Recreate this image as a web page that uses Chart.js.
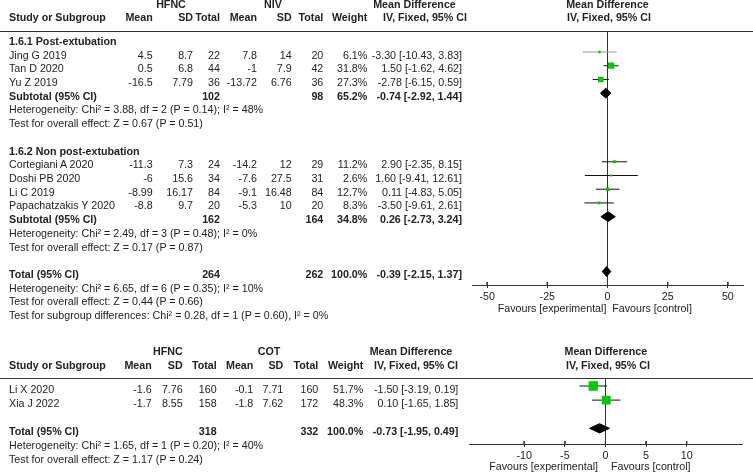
<!DOCTYPE html>
<html>
<head>
<meta charset="utf-8">
<script src="https://cdn.jsdelivr.net/npm/chart.js@4.4.0/dist/chart.umd.min.js"></script>
<style>
  body { margin: 0; background: #fff; width: 753px; height: 474px; position: relative; overflow: hidden;
         font-family: Arial, "Liberation Sans", sans-serif; font-size: 10.7px; color: #222; }
  .t { position: absolute; white-space: nowrap; line-height: 13px; }
  .b { font-weight: bold; }
  .hr { position: absolute; left: 0; width: 753px; height: 0; border-top: 1px solid #333; }
  canvas { position: absolute; left: 0; }
</style>
</head>
<body>
<canvas id="topChart" width="753" height="330" style="top:0"></canvas>
<canvas id="botChart" width="753" height="144" style="top:330px"></canvas>
<div class="hr" style="top:31px"></div>
<div class="hr" style="top:378px"></div>
<script>
// 1.6.1 Post-extubation (HFNC vs NIV)
const postStudies = ['Jing G 2019', 'Tan D 2020', 'Yu Z 2019']
const postHfncMean = [4.5, 0.5, -16.5]
const postHfncSd = [8.7, 6.8, 7.79]
const postHfncN = [22, 44, 36]
const postNivMean = [7.8, -1, -13.72]
const postNivSd = [14, 7.9, 6.76]
const postNivN = [20, 42, 36]
const postWeight = [6.1, 31.8, 27.3]
const postMd = [-3.30, 1.50, -2.78]
const postLo = [-10.43, -1.62, -6.15]
const postHi = [3.83, 4.62, 0.59]

// 1.6.2 Non post-extubation
const nonStudies = ['Cortegiani A 2020', 'Doshi PB 2020', 'Li C 2019', 'Papachatzakis Y 2020']
const nonHfncMean = [-11.3, -6, -8.99, -8.8]
const nonHfncSd = [7.3, 15.6, 16.17, 9.7]
const nonHfncN = [24, 34, 84, 20]
const nonNivMean = [-14.2, -7.6, -9.1, -5.3]
const nonNivSd = [12, 27.5, 16.48, 10]
const nonNivN = [29, 31, 84, 20]
const nonWeight = [11.2, 2.6, 12.7, 8.3]
const nonMd = [2.90, 1.60, 0.11, -3.50]
const nonLo = [-2.35, -9.41, -4.83, -9.61]
const nonHi = [8.15, 12.61, 5.05, 2.61]

// pooled rows: subtotal 1.6.1, subtotal 1.6.2, total
const pooledLabels = ['Subtotal (95% CI)', 'Subtotal (95% CI)', 'Total (95% CI)']
const pooledHfncN = [102, 162, 264]
const pooledNivN = [98, 164, 262]
const pooledWeight = [65.2, 34.8, 100.0]
const pooledMd = [-0.74, 0.26, -0.39]
const pooledLo = [-2.92, -2.73, -2.15]
const pooledHi = [1.44, 3.24, 1.37]
const pooledHet = ['Heterogeneity: Chi² = 3.88, df = 2 (P = 0.14); I² = 48%',
                   'Heterogeneity: Chi² = 2.49, df = 3 (P = 0.48); I² = 0%',
                   'Heterogeneity: Chi² = 6.65, df = 6 (P = 0.35); I² = 10%']
const pooledTest = ['Test for overall effect: Z = 0.67 (P = 0.51)',
                    'Test for overall effect: Z = 0.17 (P = 0.87)',
                    'Test for overall effect: Z = 0.44 (P = 0.66)']
const subgroupTest = 'Test for subgroup differences: Chi² = 0.28, df = 1 (P = 0.60), I² = 0%'
const topTicks = [-50, -25, 0, 25, 50]

// HFNC vs COT
const cotStudies = ['Li X 2020', 'Xia J 2022']
const cotHfncMean = [-1.6, -1.7]
const cotHfncSd = [7.76, 8.55]
const cotHfncN = [160, 158]
const cotMean = [-0.1, -1.8]
const cotSd = [7.71, 7.62]
const cotN = [160, 172]
const cotWeight = [51.7, 48.3]
const cotMd = [-1.50, 0.10]
const cotLo = [-3.19, -1.65]
const cotHi = [0.19, 1.85]
const cotTotalN = [318, 332]
const cotTotalWeight = 100.0
const cotTotalMd = -0.73
const cotTotalLo = -1.95
const cotTotalHi = 0.49
const cotHet = 'Heterogeneity: Chi² = 1.65, df = 1 (P = 0.20); I² = 40%'
const cotTest = 'Test for overall effect: Z = 1.17 (P = 0.24)'
const bottomTicks = [-10, -5, 0, 5, 10]

// ---- text helpers ----
function put(txt, x, base, align, bold) {
  const d = document.createElement('div')
  d.className = 't' + (bold ? ' b' : '')
  d.textContent = txt
  d.style.top = (base - 10.2) + 'px'
  if (align === 'r') {
    d.style.right = (753 - x) + 'px'
  } else if (align === 'c') {
    d.style.left = (x - 150) + 'px'
    d.style.width = '300px'
    d.style.textAlign = 'center'
  } else {
    d.style.left = x + 'px'
  }
  document.body.appendChild(d)
}
const ci = (m, l, h) => `${m.toFixed(2)} [${l.toFixed(2)}, ${h.toFixed(2)}]`
const pct = (w) => w.toFixed(1) + '%'

// ---- top table ----
const tc = { mean1: 152.7, sd1: 193, n1: 220, mean2: 257, sd2: 291.7, n2: 323.3, w: 367.3, ci: 462 }
const tb = (r) => 45 + r * 13.72

put('HFNC', 171, 8.5, 'c', true)
put('NIV', 273, 8.5, 'c', true)
put('Mean Difference', 414.5, 8.5, 'c', true)
put('Mean Difference', 607.5, 8.5, 'c', true)
put('Study or Subgroup', 9, 21.3, 'l', true)
put('Mean', tc.mean1, 21.3, 'r', true)
put('SD', tc.sd1, 21.3, 'r', true)
put('Total', tc.n1, 21.3, 'r', true)
put('Mean', tc.mean2, 21.3, 'r', true)
put('SD', tc.sd2, 21.3, 'r', true)
put('Total', tc.n2, 21.3, 'r', true)
put('Weight', tc.w, 21.3, 'r', true)
put('IV, Fixed, 95% CI', 425, 21.3, 'c', true)
put('IV, Fixed, 95% CI', 609, 21.3, 'c', true)

function studyRows(names, m1, s1, n1, m2, s2, n2, w, md, lo, hi, startRow) {
  names.forEach((name, i) => {
    const b = tb(startRow + i)
    put(name, 9, b, 'l')
    put(String(m1[i]), tc.mean1, b, 'r')
    put(String(s1[i]), tc.sd1, b, 'r')
    put(String(n1[i]), tc.n1, b, 'r')
    put(String(m2[i]), tc.mean2, b, 'r')
    put(String(s2[i]), tc.sd2, b, 'r')
    put(String(n2[i]), tc.n2, b, 'r')
    put(pct(w[i]), tc.w, b, 'r')
    put(ci(md[i], lo[i], hi[i]), tc.ci, b, 'r')
  })
}
function pooledRows(k, row) {
  put(pooledLabels[k], 9, tb(row), 'l', true)
  put(String(pooledHfncN[k]), tc.n1, tb(row), 'r', true)
  put(String(pooledNivN[k]), tc.n2, tb(row), 'r', true)
  put(pct(pooledWeight[k]), tc.w, tb(row), 'r', true)
  put(ci(pooledMd[k], pooledLo[k], pooledHi[k]), tc.ci, tb(row), 'r', true)
  put(pooledHet[k], 9, tb(row + 1), 'l')
  put(pooledTest[k], 9, tb(row + 2), 'l')
}

put('1.6.1 Post-extubation', 9, tb(0), 'l', true)
studyRows(postStudies, postHfncMean, postHfncSd, postHfncN, postNivMean, postNivSd, postNivN,
          postWeight, postMd, postLo, postHi, 1)
pooledRows(0, 4)
put('1.6.2 Non post-extubation', 9, tb(8), 'l', true)
studyRows(nonStudies, nonHfncMean, nonHfncSd, nonHfncN, nonNivMean, nonNivSd, nonNivN,
          nonWeight, nonMd, nonLo, nonHi, 9)
pooledRows(1, 13)
pooledRows(2, 17)
put(subgroupTest, 9, tb(20), 'l')
put('Favours [experimental]', 497.7, 311.7, 'l')
put('Favours [control]', 612.3, 311.7, 'l')

// ---- bottom table ----
const bc = { mean1: 151.7, sd1: 182.7, n1: 216.7, mean2: 253.3, sd2: 283.3, n2: 318.3, w: 363.3, ci: 458.3 }
const bb = (r) => 379.3 + r * 14

put('HFNC', 167.8, 355, 'c', true)
put('COT', 269, 355, 'c', true)
put('Mean Difference', 411, 355, 'c', true)
put('Mean Difference', 605.8, 355, 'c', true)
put('Study or Subgroup', 9, 369.3, 'l', true)
put('Mean', bc.mean1, 369.3, 'r', true)
put('SD', bc.sd1, 369.3, 'r', true)
put('Total', bc.n1, 369.3, 'r', true)
put('Mean', bc.mean2, 369.3, 'r', true)
put('SD', bc.sd2, 369.3, 'r', true)
put('Total', bc.n2, 369.3, 'r', true)
put('Weight', bc.w, 369.3, 'r', true)
put('IV, Fixed, 95% CI', 416, 369.3, 'c', true)
put('IV, Fixed, 95% CI', 608, 369.3, 'c', true)

cotStudies.forEach((name, i) => {
  const b = bb(1 + i)
  put(name, 9, b, 'l')
  put(String(cotHfncMean[i]), bc.mean1, b, 'r')
  put(String(cotHfncSd[i]), bc.sd1, b, 'r')
  put(String(cotHfncN[i]), bc.n1, b, 'r')
  put(String(cotMean[i]), bc.mean2, b, 'r')
  put(String(cotSd[i]), bc.sd2, b, 'r')
  put(String(cotN[i]), bc.n2, b, 'r')
  put(pct(cotWeight[i]), bc.w, b, 'r')
  put(ci(cotMd[i], cotLo[i], cotHi[i]), bc.ci, b, 'r')
})
put('Total (95% CI)', 9, bb(4), 'l', true)
put(String(cotTotalN[0]), bc.n1, bb(4), 'r', true)
put(String(cotTotalN[1]), bc.n2, bb(4), 'r', true)
put(pct(cotTotalWeight), bc.w, bb(4), 'r', true)
put(ci(cotTotalMd, cotTotalLo, cotTotalHi), bc.ci, bb(4), 'r', true)
put(cotHet, 9, bb(5), 'l')
put(cotTest, 9, bb(6), 'l')
put('Favours [experimental]', 489.3, 470.5, 'l')
put('Favours [control]', 611, 470.5, 'l')

// ---- forest plots ----
function forest(id, o) {
  const ds = []
  // weight squares (drawn on top)
  ds.push({
    data: o.md.map((v, i) => ({ x: v, y: o.rows[i] })),
    pointStyle: 'rect',
    pointRadius: o.weight.map((w) => (o.a + w * o.k) / Math.SQRT2),
    pointBackgroundColor: '#00c800',
    pointBorderWidth: 0,
    showLine: false
  })
  // confidence intervals
  o.md.forEach((v, i) => {
    ds.push({
      data: [{ x: o.lo[i], y: o.rows[i] }, { x: o.hi[i], y: o.rows[i] }],
      showLine: true, borderColor: o.ciColor[i], borderWidth: 1, pointRadius: 0
    })
  })
  // pooled diamonds
  o.pmd.forEach((v, i) => {
    const r = o.prows[i]
    ds.push({
      data: [{ x: o.plo[i], y: r }, { x: v, y: r - o.h }, { x: o.phi[i], y: r },
             { x: v, y: r + o.h }, { x: o.plo[i], y: r }],
      showLine: true, fill: 'shape', backgroundColor: '#000', borderColor: '#000',
      borderWidth: 1, pointRadius: 0, tension: 0
    })
  })
  // upper half of the axis tick marks
  o.ticks.forEach((v) => {
    ds.push({
      data: [{ x: v, y: o.ymax - o.tickUp }, { x: v, y: o.ymax }],
      showLine: true, borderColor: '#333', borderWidth: 1, pointRadius: 0
    })
  })
  return new Chart(document.getElementById(id), {
    type: 'scatter',
    data: { datasets: ds },
    options: {
      responsive: false,
      animation: false,
      devicePixelRatio: 1,
      events: [],
      layout: { padding: o.pad },
      plugins: { legend: { display: false }, tooltip: { enabled: false } },
      scales: {
        x: {
          type: 'linear', min: o.min, max: o.max,
          afterBuildTicks: (s) => { s.ticks = o.ticks.map((v) => ({ value: v })) },
          afterFit: (s) => { s.height = 20 },
          border: { display: true, color: '#333', width: 1 },
          grid: {
            drawOnChartArea: true,
            color: (c) => (c.tick && c.tick.value === 0 ? '#333' : 'rgba(0,0,0,0)'),
            tickColor: '#333', tickLength: 3, lineWidth: 1
          },
          ticks: { color: '#222', font: { family: 'Arial, "Liberation Sans"', size: 10.7 },
                   padding: 3, maxRotation: 0, autoSkip: false }
        },
        y: { type: 'linear', display: false, reverse: true, min: o.ymin, max: o.ymax }
      }
    }
  })
}

forest('topChart', {
  md: postMd.concat(nonMd), lo: postLo.concat(nonLo), hi: postHi.concat(nonHi),
  weight: postWeight.concat(nonWeight), rows: [1, 2, 3, 9, 10, 11, 12],
  ciColor: ['#999', '#111', '#111', '#111', '#111', '#111', '#111'],
  pmd: pooledMd, plo: pooledLo, phi: pooledHi, prows: [4, 13, 17], h: 0.36,
  a: 1.5, k: 0.15, min: -56.3, max: 56.3, ticks: topTicks, ymin: -0.494, ymax: 17.98, tickUp: 0.22,
  pad: { left: 472, right: 10, top: 31.5, bottom: 25 }
})

forest('botChart', {
  md: cotMd, lo: cotLo, hi: cotHi, weight: cotWeight, rows: [1, 2],
  ciColor: ['#111', '#111'],
  pmd: [cotTotalMd], plo: [cotTotalLo], phi: [cotTotalHi], prows: [4], h: 0.33,
  a: 0, k: 0.18, min: -16.8, max: 16.9, ticks: bottomTicks, ymin: 0.454, ymax: 5.11, tickUp: 0.21,
  pad: { left: 469, right: 10.3, top: 48.3, bottom: 10 }
})
</script>
</body>
</html>
